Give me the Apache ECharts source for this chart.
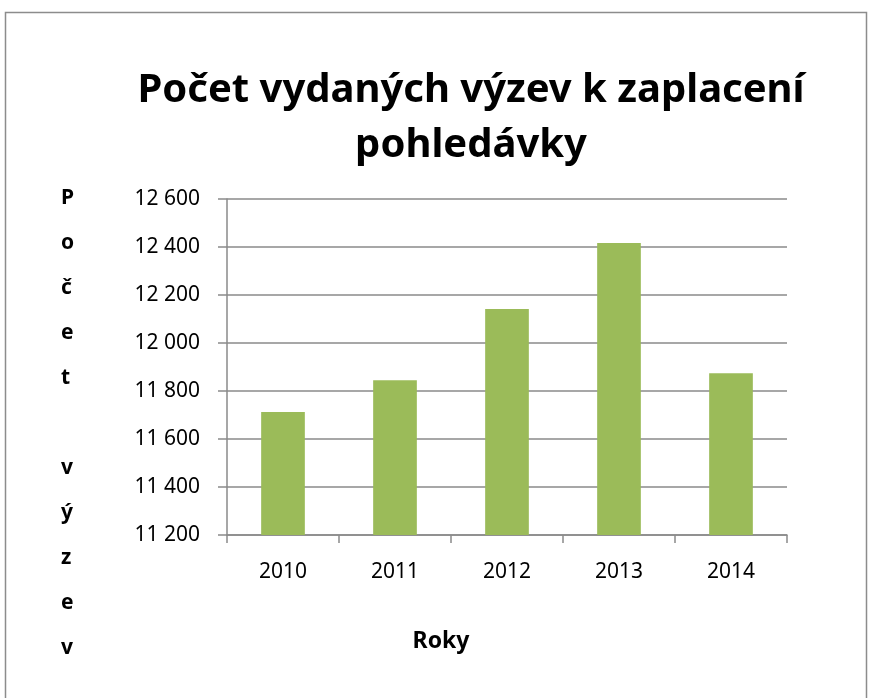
<!DOCTYPE html>
<html>
<head>
<meta charset="utf-8">
<script src="https://cdn.jsdelivr.net/npm/echarts@6/dist/echarts.min.js"></script>
<style>
html,body{margin:0;padding:0;background:#fff;}
#chartmain{width:870px;height:698px;}
</style>
</head>
<body>
<div id="chartmain"></div>
<script>
// data
var roky = ['2010', '2011', '2012', '2013', '2014'];
var pocetVyzev = [11712, 11845, 12142, 12417, 11874];
var osaY = { min: 11200, max: 12600, interval: 200 };
var nazevY = ['P', 'o', 'č', 'e', 't', ' ', 'v', 'ý', 'z', 'e', 'v'];

var myChart = echarts.init(document.getElementById('chartmain'));
var fontF = '"Noto Sans", "Open Sans", sans-serif';
var sedaCara = '#8a8a8a';

myChart.setOption({
	animation: false,
	title: {
		text: 'Počet vydaných výzev k zaplacení\npohledávky',
		left: 466,
		textAlign: 'center',
		top: 58,
		textStyle: {
			fontFamily: fontF,
			fontWeight: 'bold',
			fontSize: 40,
			lineHeight: 55,
			color: '#000'
		}
	},
	graphic: [{
		type: 'rect',
		shape: { x: 5.5, y: 12.5, width: 861, height: 700 },
		style: { fill: 'none', stroke: '#8c8c8c', lineWidth: 1.5 },
		silent: true
	}, {
		type: 'text',
		left: 61,
		top: 176,
		style: {
			text: nazevY.join('\n'),
			font: 'bold 21px ' + fontF,
			lineHeight: 45,
			fill: '#000'
		}
	}],
	grid: { left: 227, right: 83, top: 199, bottom: 163 },
	xAxis: {
		type: 'category',
		data: roky,
		name: 'Roky',
		nameLocation: 'middle',
		nameGap: 95,
		nameTextStyle: { fontFamily: fontF, fontWeight: 'bold', fontSize: 23, color: '#000', padding: [0, 132, 0, 0] },
		axisLine: { lineStyle: { color: sedaCara, width: 1.5 } },
		axisTick: { show: true, length: 8, alignWithLabel: false, lineStyle: { color: sedaCara, width: 1.5 } },
		axisLabel: { margin: 27, fontFamily: fontF, fontSize: 21, color: '#000' }
	},
	yAxis: {
		type: 'value',
		min: osaY.min,
		max: osaY.max,
		interval: osaY.interval,
		axisLine: { show: true, lineStyle: { color: sedaCara, width: 1.5 } },
		axisTick: { show: true, length: 9, lineStyle: { color: sedaCara, width: 1.5 } },
		splitLine: { lineStyle: { color: sedaCara, width: 1.5 } },
		axisLabel: {
			margin: 27,
			fontFamily: fontF,
			fontSize: 21,
			color: '#000',
			formatter: function (v) {
				return String(v).replace(/\B(?=(\d{3})+(?!\d))/g, ' ');
			}
		}
	},
	series: [{
		name: 'Počet výzev',
		type: 'bar',
		data: pocetVyzev,
		barWidth: '39%',
		itemStyle: { color: '#9bbb59' }
	}]
});
</script>
</body>
</html>
